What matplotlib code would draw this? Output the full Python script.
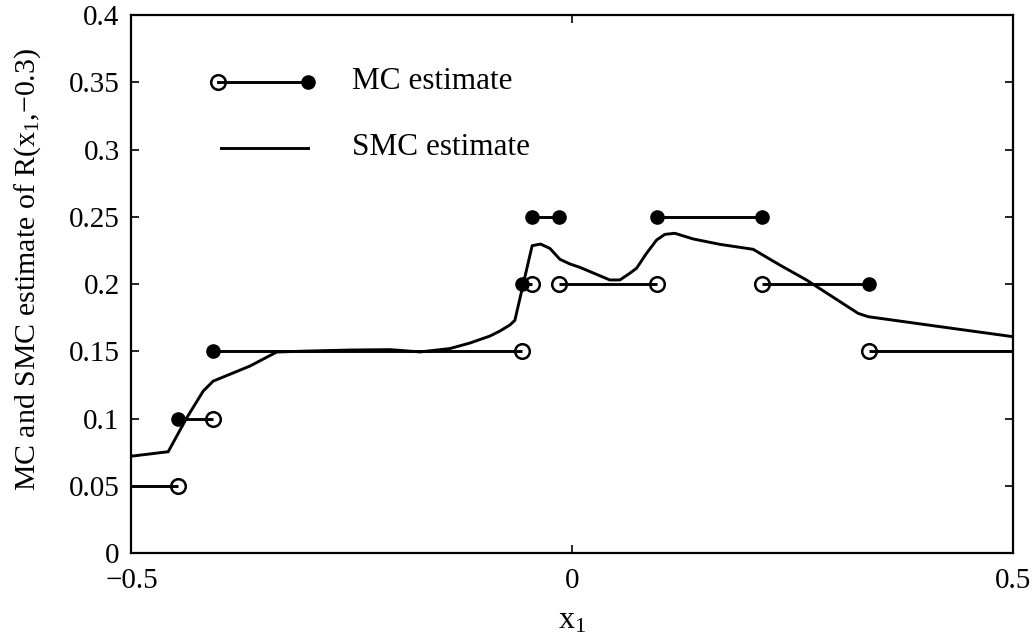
import matplotlib
matplotlib.use("Agg")
import matplotlib.pyplot as plt

plt.rcParams["font.family"] = ["Liberation Serif", "DejaVu Serif"]
plt.rcParams["mathtext.fontset"] = "custom"
plt.rcParams["mathtext.rm"] = "Liberation Serif"
plt.rcParams["mathtext.it"] = "Liberation Serif"

# MC estimate: piecewise-constant steps
mc_left = [-0.5, -0.447, -0.407, -0.057, -0.0456, -0.0153, 0.0955, 0.2156, 0.336]
mc_right = [-0.447, -0.407, -0.057, -0.0456, -0.0153, 0.0955, 0.2156, 0.336, 0.5]
mc_value = [0.05, 0.10, 0.15, 0.20, 0.25, 0.20, 0.25, 0.20, 0.15]
mc_left_end = [None, "filled", "filled", "filled", "filled", "open", "filled", "open", "open"]
mc_right_end = ["open", "open", "open", "open", "filled", "open", "filled", "filled", None]

# SMC estimate curve
smc_x = [-0.5, -0.4583, -0.4374, -0.4186, -0.4073, -0.3656, -0.3354, -0.309,
         -0.2523, -0.2069, -0.1729, -0.1389, -0.1162, -0.0935, -0.0822, -0.0709,
         -0.0652, -0.0456, -0.0361, -0.0255, -0.0142, -0.0028, 0.0085, 0.0425,
         0.0539, 0.0652, 0.0728, 0.0841, 0.0955, 0.1049, 0.1162, 0.1370, 0.1672,
         0.2050, 0.2353, 0.2655, 0.3240, 0.3354, 0.4167, 0.5]
smc_y = [0.0720, 0.0753, 0.1004, 0.1204, 0.1278, 0.1390, 0.1494, 0.1500,
         0.1509, 0.1512, 0.1495, 0.1520, 0.1561, 0.1613, 0.1650, 0.1695,
         0.1730, 0.2285, 0.2297, 0.2265, 0.2184, 0.2149, 0.2124, 0.2030,
         0.2030, 0.2080, 0.2117, 0.2228, 0.2327, 0.2369, 0.2377, 0.2335, 0.2295,
         0.2258, 0.2141, 0.2030, 0.1782, 0.1757, 0.1683, 0.1608]

x_ticks = [-0.5, 0, 0.5]
x_tick_labels = ["\u22120.5", "0", "0.5"]
y_ticks = [0, 0.05, 0.1, 0.15, 0.2, 0.25, 0.3, 0.35, 0.4]
y_tick_labels = ["0", "0.05", "0.1", "0.15", "0.2", "0.25", "0.3", "0.35", "0.4"]

LW = 2.1
TICK_FS = 21
LEGEND_FS = 22.5
YLABEL_FS = 21.5
XLABEL_FS = 23

fig = plt.figure(figsize=(10.35, 6.44), dpi=100)
ax = fig.add_axes([0.127, 0.1413, 0.852, 0.8354])

ax.plot(smc_x, smc_y, color="black", lw=LW, zorder=3)


def end_marker(x, y, kind, transform=None):
    kw = {} if transform is None else {"transform": transform}
    if kind == "filled":
        ax.plot([x], [y], "o", ms=9.5, color="black", mec="black", zorder=4, clip_on=False, **kw)
    elif kind == "open":
        ax.plot([x], [y], "o", ms=10.5, mfc="none", mec="black", mew=1.8, zorder=4, clip_on=False, **kw)


for xl, xr, v, le, re in zip(mc_left, mc_right, mc_value, mc_left_end, mc_right_end):
    ax.plot([xl, xr], [v, v], color="black", lw=LW, zorder=2, solid_capstyle="butt")
    end_marker(xl, v, le)
    end_marker(xr, v, re)

# legend drawn in axes coordinates
ta = ax.transAxes
ax.plot([0.098, 0.2], [0.8755, 0.8755], color="black", lw=LW, transform=ta)
end_marker(0.098, 0.8755, "open", transform=ta)
end_marker(0.2, 0.8755, "filled", transform=ta)
ax.plot([0.101, 0.2], [0.7528, 0.7528], color="black", lw=LW, transform=ta)
ax.text(0.25, 0.8755, "MC estimate", transform=ta, fontsize=LEGEND_FS, va="center", ha="left")
ax.text(0.25, 0.7528, "SMC estimate", transform=ta, fontsize=LEGEND_FS, va="center", ha="left")

ax.set_xlim(-0.5, 0.5)
ax.set_ylim(0, 0.4)
ax.set_xticks(x_ticks)
ax.set_xticklabels(x_tick_labels)
ax.set_yticks(y_ticks)
ax.set_yticklabels(y_tick_labels)
ax.tick_params(direction="in", length=6, width=1.2, top=True, right=True,
               labelsize=TICK_FS)
ax.tick_params(axis="y", pad=8.5)
ax.tick_params(axis="x", pad=10.5)
for s in ax.spines.values():
    s.set_linewidth(1.6)

ax.set_xlabel(r"$\mathrm{x}_1$", fontsize=XLABEL_FS, labelpad=9)
ax.set_ylabel(r"MC and SMC estimate of R($\mathrm{x}_1$," + "\u22120.3)",
              fontsize=YLABEL_FS)
ax.yaxis.set_label_coords(-0.100, 0.528)

fig.savefig("out.png", dpi=100)
